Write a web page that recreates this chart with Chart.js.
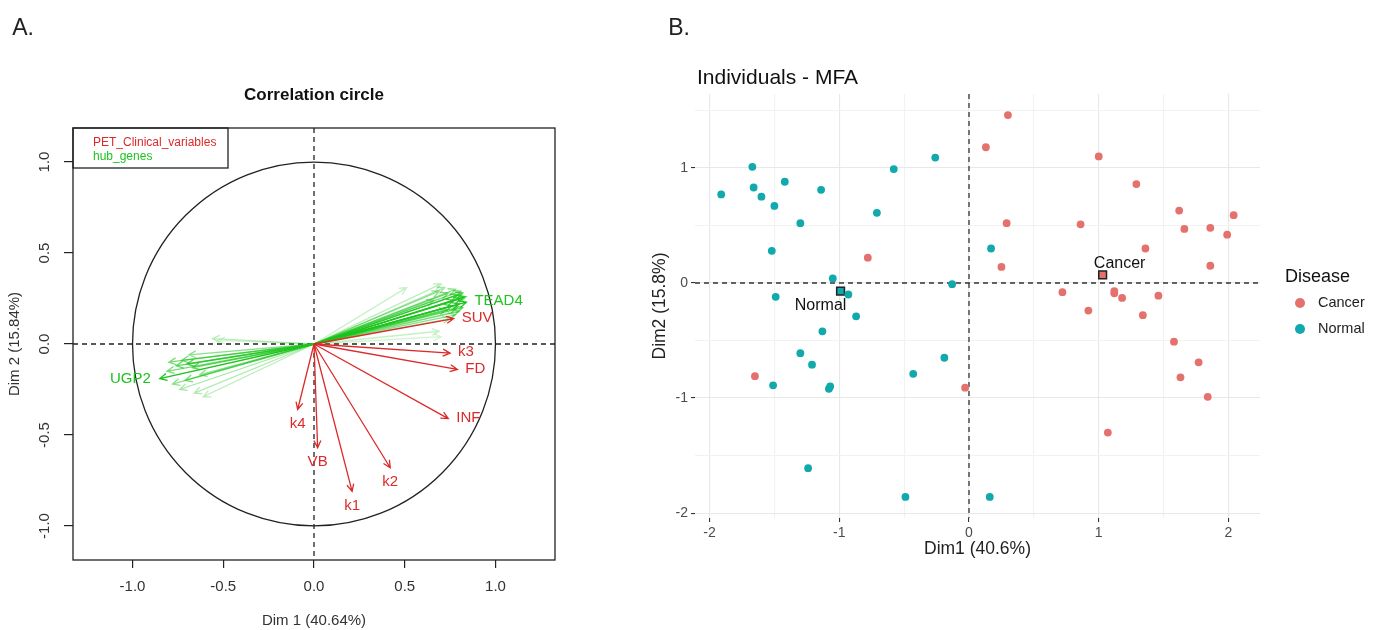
<!doctype html>
<html>
<head>
<title>MFA</title>
<script src="https://cdn.jsdelivr.net/npm/chart.js@4.4.1/dist/chart.umd.min.js"></script>
<style>
	body { margin: 0; background: #fff; width: 1381px; height: 630px; position: relative; overflow: hidden; }
	#boxA { position: absolute; left: 0; top: 0; width: 640px; height: 630px; }
	#boxB { position: absolute; left: 640px; top: 0; width: 741px; height: 630px; }
</style>
</head>
<body>
<div id="boxA"><canvas id="canvasA" width="640" height="630"></canvas></div>
<div id="boxB"><canvas id="canvasB" width="741" height="630"></canvas></div>
<script>
// ---- panel A: correlation circle ----
var axisATicks = [-1, -0.5, 0, 0.5, 1];

var clinNames = ['SUV', 'k3', 'FD', 'INF', 'k2', 'k1', 'VB', 'k4'];
var clinDim1 = [0.77, 0.75, 0.79, 0.74, 0.42, 0.21, 0.02, -0.09];
var clinDim2 = [0.14, -0.05, -0.14, -0.41, -0.68, -0.81, -0.57, -0.36];

var geneNames = ['TEAD4', '', '', '', '', '', '', '', '', '', '', '', '', '', '', '', '', '', '', '', '', '', '', '', '',
	'UGP2', '', '', '', '', '', '', '', '', '', '', '', '', '', '', ''];
var geneDim1 = [0.84, 0.83, 0.82, 0.81, 0.80, 0.79, 0.78, 0.77, 0.76, 0.82, 0.80, 0.74, 0.72, 0.70, 0.69, 0.73, 0.78, 0.75, 0.51, 0.69, 0.70, 0.66, 0.81, 0.84, 0.79,
	-0.85, -0.80, -0.76, -0.73, -0.70, -0.67, -0.78, -0.74, -0.71, -0.66, -0.61, -0.56, -0.63, -0.69, -0.81, -0.53];
var geneDim2 = [0.23, 0.26, 0.28, 0.25, 0.22, 0.27, 0.30, 0.24, 0.21, 0.20, 0.18, 0.28, 0.31, 0.33, 0.29, 0.19, 0.16, 0.14, 0.31, 0.07, 0.04, 0.24, 0.29, 0.26, 0.20,
	-0.19, -0.10, -0.12, -0.09, -0.11, -0.13, -0.22, -0.25, -0.20, -0.27, -0.29, 0.03, -0.17, -0.06, -0.15, 0.02];
var geneAlpha = [1, 0.9, 0.8, 0.9, 0.9, 0.7, 0.5, 0.8, 0.8, 0.7, 0.6, 0.6, 0.4, 0.3, 0.5, 0.6, 0.5, 0.4, 0.25, 0.25, 0.2, 0.5, 0.6, 0.5, 0.7,
	1, 0.6, 0.7, 0.6, 0.8, 0.7, 0.5, 0.4, 0.6, 0.35, 0.3, 0.3, 0.5, 0.5, 0.6, 0.2];

// ---- panel B: individuals ----
var axisBTicks = [-2, -1.5, -1, -0.5, 0, 0.5, 1, 1.5, 2];
var groups = ['Cancer', 'Normal'];
var cancerDim1 = [-0.78, 0.13, 0.30, 0.29, 0.25, -1.65, -0.03, 1.00, 1.29, 1.62, 2.04, 0.86, 1.66, 1.86, 1.99, 1.36, 1.86,
	0.72, 1.12, 1.12, 1.18, 1.46, 0.92, 1.34, 1.58, 1.77, 1.63, 1.84, 1.07];
var cancerDim2 = [0.22, 1.18, 1.46, 0.52, 0.14, -0.81, -0.91, 1.10, 0.86, 0.63, 0.59, 0.51, 0.47, 0.48, 0.42, 0.30, 0.15,
	-0.08, -0.07, -0.09, -0.13, -0.11, -0.24, -0.28, -0.51, -0.69, -0.82, -0.99, -1.30];
var normalDim1 = [-1.91, -1.67, -1.66, -1.60, -1.50, -1.42, -1.30, -1.14, -1.52, -0.71, -0.58, -0.26, -1.05, -1.49, -0.93,
	-0.87, -1.13, -1.30, -0.13, 0.17, -0.19, -1.21, -1.51, -1.08, -1.07, -0.43, -1.24, -0.49, 0.16];
var normalDim2 = [0.77, 1.01, 0.83, 0.75, 0.67, 0.88, 0.52, 0.81, 0.28, 0.61, 0.99, 1.09, 0.04, -0.12, -0.10,
	-0.29, -0.42, -0.61, -0.01, 0.30, -0.65, -0.71, -0.89, -0.92, -0.90, -0.79, -1.61, -1.86, -1.86];
var centerDim1 = [1.03, -0.99];
var centerDim2 = [0.07, -0.07];

var red = '#dc2a2a';
var green = 'rgb(28,196,28)';
var cancerColor = '#E4716E';
var normalColor = '#11A9AB';
var fontFam = '"Liberation Sans", Arial, sans-serif';

function pts(xs, ys) {
	return xs.map(function (x, i) { return { x: x, y: ys[i] }; });
}

function text(ctx, str, x, y, size, color, align, weight, rot) {
	ctx.save();
	ctx.font = (weight || 'normal') + ' ' + size + 'px ' + fontFam;
	ctx.fillStyle = color;
	ctx.textAlign = align || 'center';
	ctx.textBaseline = 'middle';
	ctx.translate(x, y);
	if (rot) ctx.rotate(rot);
	ctx.fillText(str, 0, 0);
	ctx.restore();
}

function arrow(ctx, x0, y0, x1, y1, color, lw) {
	var ang = Math.atan2(y1 - y0, x1 - x0), h = 8, a = Math.PI / 7;
	ctx.strokeStyle = color;
	ctx.lineWidth = lw;
	ctx.beginPath();
	ctx.moveTo(x0, y0);
	ctx.lineTo(x1, y1);
	ctx.moveTo(x1 - h * Math.cos(ang - a), y1 - h * Math.sin(ang - a));
	ctx.lineTo(x1, y1);
	ctx.lineTo(x1 - h * Math.cos(ang + a), y1 - h * Math.sin(ang + a));
	ctx.stroke();
}

var plotA = {
	id: 'plotA',
	beforeDatasetsDraw: function (chart) {
		var ctx = chart.ctx, a = chart.chartArea, sx = chart.scales.x, sy = chart.scales.y;
		var cx = sx.getPixelForValue(0), cy = sy.getPixelForValue(0);
		ctx.save();
		// box
		ctx.strokeStyle = '#222';
		ctx.lineWidth = 1.3;
		ctx.strokeRect(a.left, a.top, a.right - a.left, a.bottom - a.top);
		// dashed axes
		ctx.setLineDash([5, 4]);
		ctx.beginPath();
		ctx.moveTo(a.left, cy); ctx.lineTo(a.right, cy);
		ctx.moveTo(cx, a.top); ctx.lineTo(cx, a.bottom);
		ctx.stroke();
		ctx.setLineDash([]);
		// unit circle
		ctx.beginPath();
		ctx.ellipse(cx, cy, sx.getPixelForValue(1) - cx, cy - sy.getPixelForValue(1), 0, 0, Math.PI * 2);
		ctx.stroke();
		ctx.restore();
	},
	afterDatasetsDraw: function (chart) {
		var ctx = chart.ctx, a = chart.chartArea, sx = chart.scales.x, sy = chart.scales.y;
		var cx = sx.getPixelForValue(0), cy = sy.getPixelForValue(0);
		ctx.save();
		chart.data.datasets.forEach(function (ds) {
			ds.data.forEach(function (p, i) {
				var px = sx.getPixelForValue(p.x), py = sy.getPixelForValue(p.y);
				ctx.globalAlpha = ds.alphas ? ds.alphas[i] : 1;
				arrow(ctx, cx, cy, px, py, ds.arrowColor, 1.3);
				ctx.globalAlpha = 1;
				var lab = ds.names[i];
				if (!lab) return;
				var dx = px - cx, dy = py - cy;
				if (Math.abs(dx) > Math.abs(dy)) {
					if (dx > 0) text(ctx, lab, px + 8, py - 1, 15, ds.arrowColor, 'left');
					else text(ctx, lab, px - 9, py, 15, ds.arrowColor, 'right');
				} else {
					if (dy > 0) text(ctx, lab, px, py + 14, 15, ds.arrowColor, 'center');
					else text(ctx, lab, px, py - 14, 15, ds.arrowColor, 'center');
				}
			});
		});
		// legend box
		ctx.strokeStyle = '#222';
		ctx.lineWidth = 1.3;
		ctx.strokeRect(a.left, a.top, 155, 40);
		text(ctx, 'PET_Clinical_variables', a.left + 20, a.top + 15, 12, red, 'left');
		text(ctx, 'hub_genes', a.left + 20, a.top + 29, 12, green, 'left');
		// rotated y tick labels
		axisATicks.forEach(function (v) {
			text(ctx, v.toFixed(1), 45, sy.getPixelForValue(v), 15, '#333', 'center', 'normal', -Math.PI / 2);
		});
		// titles
		text(ctx, 'Correlation circle', (a.left + a.right) / 2, 95, 17, '#111', 'center', 'bold');
		text(ctx, 'Dim 1 (40.64%)', (a.left + a.right) / 2, 621, 15, '#333', 'center');
		text(ctx, 'Dim 2 (15.84%)', 15, (a.top + a.bottom) / 2, 15, '#333', 'center', 'normal', -Math.PI / 2);
		text(ctx, 'A.', 23, 29, 23, '#222', 'center');
		ctx.restore();
	}
};

new Chart(document.getElementById('canvasA'), {
	type: 'scatter',
	data: {
		datasets: [{
			label: 'hub_genes',
			data: pts(geneDim1, geneDim2),
			names: geneNames,
			alphas: geneAlpha,
			arrowColor: green,
			pointRadius: 0
		}, {
			label: 'PET_Clinical_variables',
			data: pts(clinDim1, clinDim2),
			names: clinNames,
			arrowColor: red,
			pointRadius: 0
		}]
	},
	options: {
		responsive: false,
		animation: false,
		layout: { padding: { top: 128, right: 85, left: 0, bottom: 0 } },
		plugins: { legend: { display: false }, tooltip: { enabled: false } },
		scales: {
			x: {
				type: 'linear', min: -1.328, max: 1.328,
				afterBuildTicks: function (s) { s.ticks = axisATicks.map(function (v) { return { value: v }; }); },
				afterFit: function (s) { s.height = 70; },
				border: { display: false },
				grid: { drawOnChartArea: false, drawTicks: true, tickLength: 8, color: '#222', lineWidth: 1.2 },
				ticks: { color: '#333', font: { size: 15, family: fontFam }, padding: 10, maxRotation: 0, autoSkip: false,
					callback: function (v) { return v.toFixed(1); } }
			},
			y: {
				type: 'linear', min: -1.187, max: 1.187,
				afterBuildTicks: function (s) { s.ticks = axisATicks.map(function (v) { return { value: v }; }); },
				afterFit: function (s) { s.width = 73; },
				border: { display: false },
				grid: { drawOnChartArea: false, drawTicks: true, tickLength: 9, color: '#222', lineWidth: 1.2 },
				ticks: { display: false }
			}
		}
	},
	plugins: [plotA]
});

var plotB = {
	id: 'plotB',
	beforeDatasetsDraw: function (chart) {
		var ctx = chart.ctx, a = chart.chartArea, sx = chart.scales.x, sy = chart.scales.y;
		var cx = sx.getPixelForValue(0), cy = sy.getPixelForValue(0);
		ctx.save();
		ctx.strokeStyle = '#333';
		ctx.lineWidth = 1.3;
		ctx.setLineDash([5, 4]);
		ctx.beginPath();
		ctx.moveTo(a.left, cy); ctx.lineTo(a.right, cy);
		ctx.moveTo(cx, a.top); ctx.lineTo(cx, a.bottom);
		ctx.stroke();
		ctx.restore();
	},
	afterDatasetsDraw: function (chart) {
		var ctx = chart.ctx, a = chart.chartArea, sx = chart.scales.x, sy = chart.scales.y;
		ctx.save();
		// group labels next to the centroids
		var offs = [[17, -11], [-20, 15]];
		groups.forEach(function (g, i) {
			text(ctx, g, sx.getPixelForValue(centerDim1[i]) + offs[i][0], sy.getPixelForValue(centerDim2[i]) + offs[i][1], 16, '#111', 'center');
		});
		text(ctx, 'Individuals - MFA', a.left + 2, 78, 21, '#111', 'left');
		text(ctx, 'Dim1 (40.6%)', (a.left + a.right) / 2, 549, 17.5, '#222', 'center');
		text(ctx, 'Dim2 (15.8%)', 20, (a.top + a.bottom) / 2, 17.5, '#222', 'center', 'normal', -Math.PI / 2);
		text(ctx, 'B.', 39, 29, 23, '#222', 'center');
		// legend
		text(ctx, 'Disease', 645, 277, 18, '#111', 'left');
		[cancerColor, normalColor].forEach(function (c, i) {
			ctx.fillStyle = c;
			ctx.beginPath();
			ctx.arc(660, 303 + i * 26, 5, 0, Math.PI * 2);
			ctx.fill();
			text(ctx, groups[i], 678, 303 + i * 26, 14.5, '#222', 'left');
		});
		ctx.restore();
	}
};

function gridColor(c) {
	return Number.isInteger(c.tick.value) ? '#e8e8e8' : '#f2f2f2';
}
function tickColor(c) {
	return Number.isInteger(c.tick.value) ? '#333' : 'rgba(0,0,0,0)';
}

new Chart(document.getElementById('canvasB'), {
	type: 'scatter',
	data: {
		datasets: [{
			label: 'Cancer',
			data: pts(cancerDim1, cancerDim2),
			backgroundColor: cancerColor,
			borderWidth: 0,
			pointRadius: 3.9
		}, {
			label: 'Normal',
			data: pts(normalDim1, normalDim2),
			backgroundColor: normalColor,
			borderWidth: 0,
			pointRadius: 3.9
		}, {
			label: 'centers',
			data: pts(centerDim1, centerDim2),
			backgroundColor: [cancerColor, normalColor],
			borderColor: '#222',
			borderWidth: 1.5,
			pointStyle: 'rect',
			pointRadius: 5.5
		}]
	},
	options: {
		responsive: false,
		animation: false,
		layout: { padding: { top: 94, right: 121, left: 0, bottom: 0 } },
		plugins: { legend: { display: false }, tooltip: { enabled: false } },
		scales: {
			x: {
				type: 'linear', min: -2.112, max: 2.243,
				afterBuildTicks: function (s) { s.ticks = axisBTicks.map(function (v) { return { value: v }; }); },
				afterFit: function (s) { s.height = 112; },
				border: { display: false },
				grid: { color: gridColor, tickColor: tickColor, lineWidth: 1.1, tickLength: 4 },
				ticks: { color: '#4d4d4d', font: { size: 14, family: fontFam }, padding: 3, maxRotation: 0, autoSkip: false,
					callback: function (v) { return Number.isInteger(v) ? v : ''; } }
			},
			y: {
				type: 'linear', min: -2.043, max: 1.643,
				afterBuildTicks: function (s) { s.ticks = axisBTicks.slice(0, 8).map(function (v) { return { value: v }; }); },
				afterFit: function (s) { s.width = 55; },
				border: { display: false },
				grid: { color: gridColor, tickColor: tickColor, lineWidth: 1.1, tickLength: 4 },
				ticks: { color: '#4d4d4d', font: { size: 14, family: fontFam }, padding: 3, autoSkip: false,
					callback: function (v) { return Number.isInteger(v) ? v : ''; } }
			}
		}
	},
	plugins: [plotB]
});
</script>
</body>
</html>
